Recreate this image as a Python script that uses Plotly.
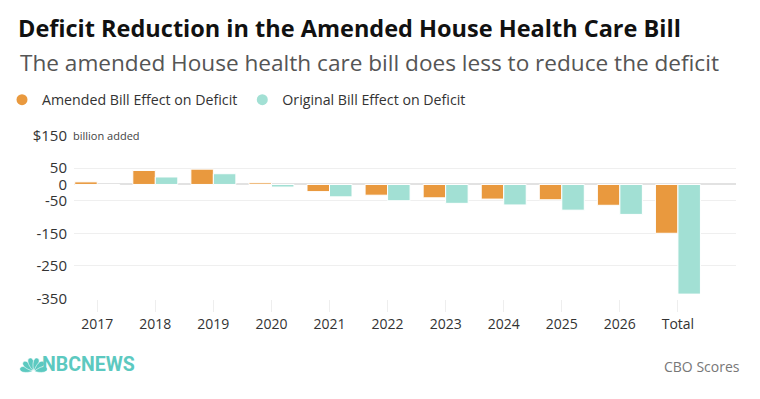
import math
import plotly.graph_objects as go

categories = ["2017", "2018", "2019", "2020", "2021", "2022", "2023", "2024", "2025", "2026", "Total"]
amended = [8, 43, 47, 5, -22, -33, -41, -45, -47, -64, -150]
original = [-1, 23, 33, -8, -38, -50, -58, -63, -79, -92, -337]
tick_vals = [150, 50, 0, -50, -150, -250, -350]
tick_text = ["$150", "50", "0", "-50", "-150", "-250", "-350"]

ORANGE = "#E9993E"
TEAL = "#A2E0D4"
LOGO = "#5CC9C0"
FONT = "Open Sans"

# page body has an 8px default margin; build the figure in page coords shifted by it
OFF = 8
W, H = 760 - OFF, 399 - OFF
ML, MT = 74 - OFF, 135 - OFF
PW, PH = 662, 164
MR, MB = W - ML - PW, H - MT - PH


def px2x(px):
    return (px - OFF - ML) / PW


def px2y(py):
    return (MT + PH - (py - OFF)) / PH


fig = go.Figure()
fig.add_trace(go.Bar(x=categories, y=amended, marker=dict(color=ORANGE, line=dict(color="white", width=1)),
                     name="Amended Bill Effect on Deficit", showlegend=False))
fig.add_trace(go.Bar(x=categories, y=original, marker=dict(color=TEAL, line=dict(color="white", width=1)),
                     name="Original Bill Effect on Deficit", showlegend=False))
fig.add_trace(go.Scatter(x=[None], y=[None], mode="markers", marker=dict(size=11, color=ORANGE),
                         name="Amended Bill Effect on Deficit"))
fig.add_trace(go.Scatter(x=[None], y=[None], mode="markers", marker=dict(size=11, color=TEAL),
                         name="Original Bill Effect on Deficit"))

annotations = [
    dict(text="The amended House health care bill does less to reduce the deficit", xref="paper", yref="paper",
         x=px2x(18), y=px2y(62), xanchor="left", yanchor="middle", showarrow=False,
         font=dict(family=FONT, size=22.6, color="#555555")),
    dict(text="billion added", xref="paper", yref="y", x=px2x(70), y=150, xanchor="left", yanchor="middle",
         showarrow=False, bgcolor="white", borderpad=2, font=dict(family=FONT, size=11, color="#444444")),
    dict(text="<b>NBCNEWS</b>", xref="paper", yref="paper", x=px2x(40), y=px2y(364), xanchor="left",
         yanchor="middle", showarrow=False,
         font=dict(family="Roboto", size=19.5, color=LOGO)),
    dict(text="CBO Scores", xref="paper", yref="paper", x=px2x(742), y=px2y(366), xanchor="right",
         yanchor="middle", showarrow=False, font=dict(family=FONT, size=14, color="#777777")),
]

# NBC peacock logo approximation: six feathers fanning from a base point
shapes = []
bx, by = 33.5, 371.5
L, wtip = 14.0, 3.8
for i in range(6):
    a = math.radians(168 - i * 31.2)
    ux, uy = math.cos(a), -math.sin(a)
    nx, ny = -uy, ux
    pts = []
    for k in range(24):
        t = 2 * math.pi * k / 24
        along = L * 0.55 + L * 0.45 * math.cos(t)
        across = wtip * math.sin(t) * (0.3 + 0.7 * (along / L))
        pts.append((bx + ux * along + nx * across, by + uy * along + ny * across))
    path = "M " + " L ".join(f"{px2x(p[0]):.5f},{px2y(p[1]):.5f}" for p in pts) + " Z"
    shapes.append(dict(type="path", xref="paper", yref="paper", path=path,
                       fillcolor=LOGO, line=dict(width=0.6, color="white")))

fig.update_layout(
    width=W, height=H,
    margin=dict(l=ML, r=MR, t=MT, b=MB, autoexpand=False),
    paper_bgcolor="rgba(0,0,0,0)", plot_bgcolor="white",
    barmode="group", bargap=0.225, bargroupgap=0.0,
    title=dict(text="<b>Deficit Reduction in the Amended House Health Care Bill</b>", xref="container",
               yref="container", x=(18 - OFF) / W, y=1 - (29 - OFF) / H, xanchor="left", yanchor="middle",
               pad=dict(l=0, r=0, t=0, b=0),
               font=dict(family=FONT, size=23.5, color="#111111")),
    legend=dict(orientation="h", xref="paper", yref="paper", x=px2x(2),
                y=px2y(100), xanchor="left", yanchor="middle", bgcolor="rgba(0,0,0,0)",
                font=dict(family=FONT, size=14.2, color="#333333"),
                itemwidth=30, traceorder="normal"),
    font=dict(family=FONT),
    xaxis=dict(range=[-0.4, 11.0], showgrid=False, showline=False, zeroline=False, automargin=False,
               ticks="outside", ticklen=12, tickcolor="#eeeeee", tickwidth=1,
               tickfont=dict(family=FONT, size=14, color="#333333"), fixedrange=True),
    yaxis=dict(range=[-352, 152], tickvals=tick_vals, ticktext=tick_text, showgrid=True, automargin=False,
               gridcolor="#efefef", gridwidth=1, zeroline=True, zerolinecolor="#e2e2e2", zerolinewidth=2,
               showline=False, ticks="", ticklabelstandoff=6,
               tickfont=dict(family=FONT, size=15, color="#333333"), fixedrange=True),
    annotations=annotations,
    shapes=shapes,
)

fig.write_html("out.html")
